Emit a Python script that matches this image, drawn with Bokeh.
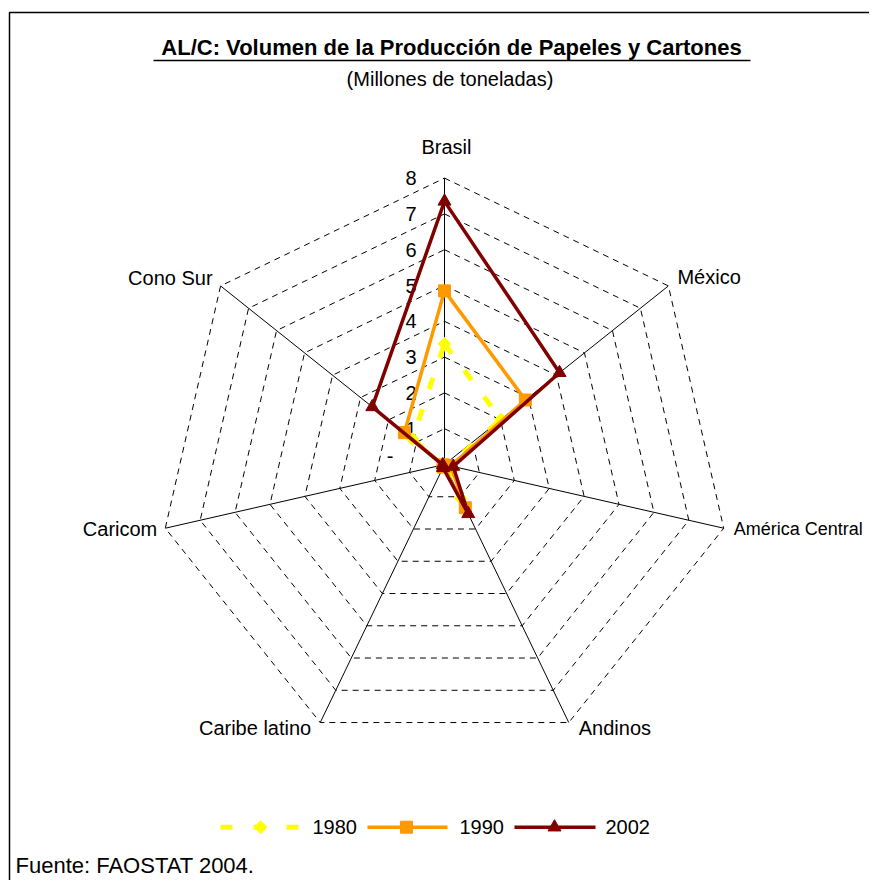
import numpy as np
from bokeh.plotting import figure
from bokeh.models import Range1d, ColumnDataSource
from bokeh.core.properties import value
from bokeh.embed import file_html
from bokeh.resources import INLINE

# ---------------- data ----------------
categories = ["Brasil", "México", "América Central", "Andinos",
              "Caribe latino", "Caricom", "Cono Sur"]
years = ["1980", "1990", "2002"]
v1980 = [3.37, 2.02, 0.12, 1.05, 0.05, 0.03, 1.15]
v1990 = [4.85, 2.89, 0.18, 1.34, 0.08, 0.04, 1.43]
v2002 = [7.35, 4.11, 0.25, 1.53, 0.10, 0.05, 2.58]
tick_values = [0, 1, 2, 3, 4, 5, 6, 7, 8]
tick_labels = ["-", "1", "2", "3", "4", "5", "6", "7", "8"]
title_text = "AL/C: Volumen de la Producción de Papeles y Cartones"
subtitle_text = "(Millones de toneladas)"
source_text = "Fuente: FAOSTAT 2004."

# ---------------- layout ----------------
W, H = 869, 880
CX, CY = 444, 464      # pixel of radar centre (from figure's top-left)
S = 35.8               # pixels per million tonnes
R_MAX = tick_values[-1]
FONT = value("Liberation Sans")


def to_data(px, py):
    return (px - CX) / S, (CY - py) / S


xa, yb = to_data(0, 0)
xb, ya = to_data(W, H)

p = figure(width=W, height=H, x_range=Range1d(xa, xb), y_range=Range1d(ya, yb),
           output_backend="svg", toolbar_location=None, min_border=0,
           x_axis_location=None, y_axis_location=None)
p.grid.visible = False
p.outline_line_color = None
p.background_fill_color = "white"
p.border_fill_color = "white"

n = len(categories)
theta = 2 * np.pi * np.arange(n) / n
ux, uy = np.sin(theta), np.cos(theta)


def ring(vals):
    vals = np.asarray(vals, dtype=float)
    xs, ys = vals * ux, vals * uy
    return np.append(xs, xs[0]), np.append(ys, ys[0])


# chart frame (left and top edges visible)
fx, fy = zip(*[to_data(9, 900), to_data(9, 12), to_data(890, 12)])
p.line(list(fx), list(fy), line_color="black", line_width=1.5)

# grid rings
for t in tick_values[1:]:
    gx, gy = ring([t] * n)
    p.line(gx, gy, line_color="black", line_width=1, line_dash="6 5")

# spokes
p.segment(x0=np.zeros(n), y0=np.zeros(n), x1=R_MAX * ux, y1=R_MAX * uy,
          line_color="black", line_width=1)

# value labels on Brasil axis
lab_x = []
lab_y = []
for v, t in zip(tick_values, tick_labels):
    if t == "-":
        lx, ly = to_data(393, CY - v * S - 9)
    else:
        lx, ly = to_data(416, CY - v * S)
    lab_x.append(lx)
    lab_y.append(ly)
p.text(x=lab_x, y=lab_y, text=tick_labels, text_align="right", text_baseline="middle",
       text_font=FONT, text_font_size=value("20px"), text_color="black")

# category labels
offsets = [(2, -31, "center", "20px"), (9, -9, "left", "20px"), (10, 1, "left", "18px"),
           (10, 5, "left", "20px"), (-9, 5, "right", "20px"), (-8, 1, "right", "20px"),
           (-8, -8, "right", "20px")]
for k, (cat, (dx, dy, al, fs)) in enumerate(zip(categories, offsets)):
    vx = CX + R_MAX * S * ux[k]
    vy = CY - R_MAX * S * uy[k]
    tx, ty = to_data(vx + dx, vy + dy)
    p.text(x=[tx], y=[ty], text=[cat], text_align=al, text_baseline="middle",
           text_font=FONT, text_font_size=value(fs), text_color="black")

# series
styles = {
    "1980": dict(color="#FFFF00", width=5, dash="12 21", marker="square", size=9, angle=np.pi / 4),
    "1990": dict(color="#FF9900", width=3.5, dash="solid", marker="square", size=12, angle=0),
    "2002": dict(color="#800000", width=3.5, dash="solid", marker="triangle", size=13, angle=0),
}
series_vals = {"1980": v1980, "1990": v1990, "2002": v2002}
for yr in years:
    st = styles[yr]
    vals = np.asarray(series_vals[yr], dtype=float)
    lx, ly = ring(vals)
    p.line(lx, ly, line_color=st["color"], line_width=st["width"], line_dash=st["dash"])
    src = ColumnDataSource(dict(x=vals * ux, y=vals * uy))
    p.scatter("x", "y", source=src, marker=st["marker"], size=st["size"], angle=st["angle"],
              fill_color=st["color"], line_color=st["color"], line_width=1)

# legend (manual)
leg_y = 826.7
leg_items = [("1980", 220, 299, 260, 312), ("1990", 367, 447, 406, 459), ("2002", 514, 595, 554, 605)]
for yr, xs0, xs1, xm, xt in leg_items:
    st = styles[yr]
    a = to_data(xs0, leg_y)
    b = to_data(xs1, leg_y)
    p.line([a[0], b[0]], [a[1], b[1]], line_color=st["color"], line_width=st["width"],
           line_dash=st["dash"])
    m = to_data(xm, leg_y)
    p.scatter([m[0]], [m[1]], marker=st["marker"], size=st["size"], angle=st["angle"],
              fill_color=st["color"], line_color=st["color"], line_width=1)
    t = to_data(xt, leg_y)
    p.text(x=[t[0]], y=[t[1]], text=[yr], text_align="left", text_baseline="middle",
           text_font=FONT, text_font_size=value("20px"), text_color="black")

# title, underline, subtitle, source
t = to_data(451, 47)
p.text(x=[t[0]], y=[t[1]], text=[title_text], text_align="center", text_baseline="middle",
       text_font=FONT, text_font_size=value("22px"), text_font_style="bold", text_color="black")
u0 = to_data(153, 60)
u1 = to_data(750, 60)
p.line([u0[0], u1[0]], [u0[1], u1[1]], line_color="black", line_width=1.5)
t = to_data(449.5, 78)
p.text(x=[t[0]], y=[t[1]], text=[subtitle_text], text_align="center", text_baseline="middle",
       text_font=FONT, text_font_size=value("20px"), text_color="black")
t = to_data(15, 865)
p.text(x=[t[0]], y=[t[1]], text=[source_text], text_align="left", text_baseline="middle",
       text_font=FONT, text_font_size=value("22px"), text_color="black")

with open("out.html", "w") as f:
    f.write(file_html(p, INLINE))
